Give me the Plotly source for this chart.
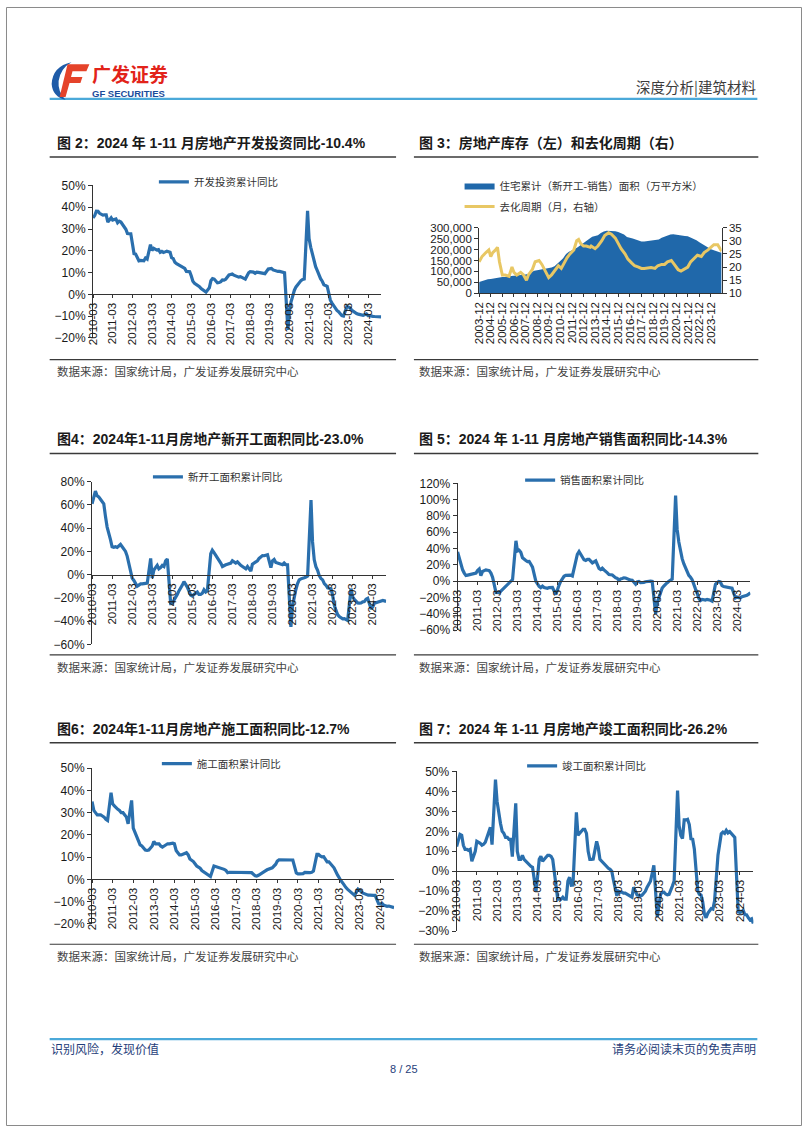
import plotly.graph_objects as go

W, H = 802, 1133
def fx(p): return p / W
def fy(p): return 1 - p / H

BLUE = "#2A6FAD"
AREA = "#2068AA"
GOLD = "#E8C764"
NAVY = "#1F3E7A"
INK = "#1A1A1A"
SANS = "Liberation Sans, Arial, Noto Sans CJK SC, sans-serif"
CJK = "Noto Sans CJK SC, sans-serif"

# ---------------- data ----------------
YEARS = list(range(2010, 2025))
MONTHS = [f"{y}-{m:02d}-01" for y in YEARS for m in range(2, 13)
          if not (y == 2010 and m < 3) and not (y == 2024 and m > 11)]
MARCH_TICKS = [f"{y}-03-01" for y in YEARS]
MARCH_TEXT = [f"{y}-03" for y in YEARS]

# 开发投资累计同比 (%)
INVEST = [
    35.1, 36.2, 38.2, 38.1, 37.2, 36.7, 36.4, 36.5, 36.5, 33.2,
    35.2, 34.1, 34.3, 34.6, 32.9, 33.6, 33.2, 32.0, 31.1, 29.9, 27.9,
    27.8, 23.5, 18.7, 18.5, 16.6, 15.4, 15.6, 15.4, 15.4, 16.7, 16.2,
    22.8, 20.2, 21.1, 20.6, 20.3, 20.5, 19.3, 19.7, 19.2, 19.5, 19.8,
    19.3, 16.8, 16.4, 14.7, 14.1, 13.7, 13.2, 12.5, 12.4, 11.9, 10.5,
    10.4, 8.5, 6.0, 5.1, 4.6, 4.3, 3.5, 2.6, 2.0, 1.3, 1.0,
    3.0, 6.2, 7.2, 7.0, 6.1, 5.3, 5.4, 5.8, 6.6, 6.5, 6.9,
    8.9, 9.1, 9.3, 8.8, 8.5, 7.9, 7.9, 8.1, 7.8, 7.5, 7.0,
    9.9, 10.4, 10.3, 10.2, 9.7, 10.2, 10.1, 9.9, 9.7, 9.7, 9.5,
    11.6, 11.8, 11.9, 11.2, 10.9, 10.6, 10.5, 10.5, 10.3, 10.2, 9.9,
    -16.3, -7.7, -3.3, -0.3, 1.9, 3.4, 4.6, 5.6, 6.3, 6.8, 7.0,
    38.3, 25.6, 21.6, 18.3, 15.0, 12.7, 10.9, 8.8, 7.2, 6.0, 4.4,
    3.7, 0.7, -2.7, -4.0, -5.4, -6.4, -7.4, -8.0, -8.8, -9.8, -10.0,
    -5.7, -5.8, -6.2, -7.2, -7.9, -8.5, -8.8, -9.1, -9.3, -9.4, -9.6,
    -9.0, -9.8, -9.8, -10.1, -10.1, -10.2, -10.2, -10.1, -10.3, -10.4,
]

# 新开工面积累计同比 (%)
STARTS = [
    61, 66, 72, 68, 67, 65, 63, 61, 50, 41,
    30, 24, 23.5, 24, 23.5, 25, 26, 24, 22, 20, 16,
    3, -3, -5, -8, -10, -9, -8, -8, -8, -7.5, -7.3,
    14, -3, 4, 6, 8, 5, 6, 8, 7, 12, 13.5,
    -25, -25, -22, -20, -17, -14, -12, -9, -6, -8, -10.7,
    -17.7, -18.4, -17, -16, -15, -17, -17, -16, -13, -15, -14,
    18, 21, 19, 17, 14, 13, 10, 7, 8, 8.5, 9,
    10, 12, 10.5, 10, 11, 9, 8, 7, 6, 5, 7,
    3, 9, 10, 11.5, 12, 14, 15.5, 16.4, 16.3, 16.8, 17.2,
    6, 11.9, 13.1, 10.5, 10.1, 9.5, 8.9, 8.6, 10.0, 8.6, 8.5,
    -44.9, -27.2, -18.4, -12.8, -7.6, -4.5, -3.6, -3.4, -2.6, -2.0, -1.2,
    64.3, 28.2, 12.8, 6.9, 3.8, -0.9, -3.2, -4.5, -7.7, -9.1, -11.4,
    -12.2, -17.5, -26.3, -30.6, -34.4, -36.1, -37.2, -38.0, -37.8, -38.9, -39.4,
    -12, -19.2, -21.2, -22.6, -24.3, -24.5, -24.4, -23.4, -23.2, -21.2, -20.4,
    -29.7, -27.8, -24.6, -24.2, -23.7, -23.2, -22.5, -22.2, -22.6, -23.0,
]

# 销售面积累计同比 (%)
SALES = [
    36, 28, 20, 14, 10, 7, 7.5, 8, 8.5, 9,
    10, 13, 15, 7, 12, 13, 14, 13.5, 13, 10, 5,
    -13.7, -14, -14, -12, -10, -8, -5, -4, -2, 0, 2,
    49.5, 37.1, 38.0, 35.6, 28.7, 26.4, 25.4, 24.0, 24.2, 20.8, 17.3,
    -0.1, -3.8, -6.3, -7.8, -6.0, -7.6, -8.3, -8.6, -7.8, -8.2, -7.6,
    -16.3, -9.2, -4.8, -0.2, 3.9, 6.1, 7.2, 7.5, 7.2, 7.4, 6.5,
    28.2, 33.1, 36.5, 33.2, 27.9, 26.4, 25.5, 26.9, 26.8, 24.3, 22.5,
    25.1, 19.5, 15.7, 14.3, 16.1, 14.0, 12.7, 10.3, 8.2, 7.9, 7.7,
    4.1, 3.6, 1.3, 2.9, 3.3, 4.2, 4.0, 2.9, 2.2, 1.4, 1.3,
    -3.6, -0.9, -0.3, -1.6, -1.8, -1.3, -0.6, -0.1, 0.1, 0.2, -0.1,
    -39.9, -26.3, -19.3, -12.3, -8.4, -5.8, -3.3, -1.8, 0.0, 1.3, 2.6,
    104.9, 63.8, 48.1, 36.3, 27.7, 21.5, 15.9, 11.3, 7.3, 4.8, 1.9,
    -9.6, -13.8, -20.9, -23.6, -22.2, -23.1, -23.0, -22.2, -22.3, -23.3, -24.3,
    -3.6, -1.8, -0.4, -0.9, -5.3, -6.5, -7.1, -7.5, -7.8, -8.0, -8.5,
    -20.5, -19.4, -20.2, -20.3, -19.0, -18.6, -18.0, -17.1, -15.8, -14.3,
]

# 施工面积累计同比 (%)
UNDER = [
    35, 31, 30, 29, 29, 29, 28.5, 28, 27, 26.5,
    39, 34, 33, 32, 31.5, 31, 30, 30, 29, 28, 25,
    35.5, 23, 21, 19, 16.5, 15.5, 15, 14, 13.2, 13, 13.2,
    15, 17, 16, 16, 16, 15, 14.5, 15, 15.5, 16, 16,
    16.3, 16, 13, 12, 11, 11, 11.3, 11.5, 12, 11, 9.2,
    8, 7, 6, 5.5, 5, 4, 3.5, 3, 2.5, 2, 1.3,
    6, 5.8, 5.6, 5.5, 5.2, 5, 4.5, 4, 3, 3.2, 3.2,
    3.2, 3.3, 3.2, 3.1, 3, 3.2, 3.3, 3.2, 3, 3, 3,
    1.6, 1.5, 1.8, 2.2, 2.8, 3.3, 3.8, 4.3, 4.7, 5, 5.2,
    6.8, 8.2, 8.8, 8.8, 8.8, 9, 8.8, 8.7, 9, 8.7, 8.7,
    2.9, 2.5, 2.5, 2.6, 2.6, 3.1, 3.0, 3.1, 3.0, 3.2, 3.7,
    11.2, 11.2, 10.5, 10.1, 10.2, 9.0, 7.9, 7.9, 7.1, 6.1, 5.2,
    2, 0.5, -0.5, -1.5, -2.8, -3.7, -4.5, -5.3, -5.7, -6.5, -7.2,
    -4.4, -5.2, -5.6, -6.2, -6.6, -6.8, -7.1, -7.1, -7.3, -7.2, -7.2,
    -11.0, -11.1, -10.8, -11.6, -12.0, -12.1, -12.0, -12.2, -12.4, -12.7,
]

# 竣工面积累计同比 (%)
COMPLETE = [
    12.4, 15, 18.5, 18, 13, 11, 11, 10.5, 11, 5,
    10, 15, 14.5, 14, 13, 13.5, 14.5, 17, 19, 22, 13.3,
    45.9, 35, 28, 24, 20, 19, 17, 17, 16, 16, 7.3,
    34, 10, 6, 6, 8, 6, 5, 4, 3, 2.5, 2,
    -10, -3, 6, 7.5, 5, 6, 7, 8, 8, 7.5, 5.9,
    -8, -14, -14, -14, -13, -14, -14, -5, -3, -7, -6.9,
    29.5, 18, 19, 20, 21, 21, 19, 10, 6, 6, 6.1,
    15, 12, 6, 5, 4, 3, 2, 1.5, 1, 0, -4.4,
    -12.3, -10, -10.5, -10.5, -11, -11, -11.5, -12, -12.5, -13, -8,
    -11.9, -12, -12.5, -12, -11, -10, -8, -6.5, -5, -1, 3,
    -22.9, -15.8, -11.5, -10.6, -10.5, -11.4, -11.8, -11.6, -9.9, -7.3, -4.9,
    40.4, 22.9, 17.9, 16.4, 25.7, 25.7, 26.0, 23.4, 16.3, 16.0, 11.2,
    -9.8, -11.5, -11.9, -15.3, -21.5, -23.3, -21.1, -19.9, -18.7, -19.0, -15.0,
    8.0, 14.7, 18.8, 19.6, 19.0, 20.5, 19.2, 19.8, 19.0, 17.9, 17.0,
    -20.2, -20.7, -20.4, -19.5, -21.8, -21.8, -23.2, -24.4, -23.9, -26.2,
]

for s in (INVEST, STARTS, SALES, UNDER, COMPLETE):
    assert len(s) == len(MONTHS), len(s)

# 图3: 住宅累计(新开工-销售)面积 (万平方米), quarterly
INV_DATES = ["2003-12-01"] + [f"{y}-{m:02d}-01" for y in range(2004, 2024) for m in (3, 6, 9, 12)] \
    + ["2024-03-01", "2024-06-01", "2024-09-01", "2024-11-01"]
INV_AREA = [
    52000,
    57000, 61000, 64000, 66000,
    68000, 72000, 75000, 75000,
    75000, 78000, 79000, 80000,
    81000, 82000, 84000, 86000,
    90000, 97000, 103000, 106000,
    108000, 110000, 111000, 114000,
    118000, 124000, 138000, 148000,
    160000, 180000, 190000, 198000,
    202000, 210000, 220000, 230000,
    238000, 250000, 258000, 262000,
    265000, 275000, 282000, 285000,
    285000, 285000, 283000, 280000,
    275000, 268000, 257000, 252000,
    250000, 246000, 242000, 236000,
    236000, 238000, 241000, 243000,
    244000, 246000, 254000, 259000,
    262000, 268000, 270000, 267000,
    265000, 262000, 261000, 260000,
    255000, 249000, 242000, 233000,
    225000, 214000, 207000, 201000,
    197000, 191000, 187000, 185000,
]
assert len(INV_DATES) == len(INV_AREA)

# 去化周期 (月, 右轴)
DEST_DATES = [
    "2003-12-01", "2004-03-01", "2004-07-01", "2004-10-01", "2004-12-01",
    "2005-02-01", "2005-05-01", "2005-07-01", "2005-09-01", "2005-12-01",
    "2006-03-01", "2006-07-01", "2006-10-01", "2006-12-01", "2007-03-01",
    "2007-07-01", "2007-10-01", "2008-01-01", "2008-03-01", "2008-07-01",
    "2008-10-01", "2009-02-01", "2009-05-01", "2009-09-01", "2009-12-01",
    "2010-03-01", "2010-07-01", "2010-10-01", "2011-01-01", "2011-03-01",
    "2011-07-01", "2011-10-01", "2012-02-01", "2012-05-01", "2012-07-01",
    "2012-09-01", "2012-12-01", "2013-03-01", "2013-07-01", "2013-08-01",
    "2013-12-01", "2014-03-01", "2014-07-01", "2014-10-01", "2015-02-01",
    "2015-05-01", "2015-09-01", "2015-12-01", "2016-03-01", "2016-07-01",
    "2016-10-01", "2017-02-01", "2017-05-01", "2017-09-01", "2017-12-01",
    "2018-03-01", "2018-07-01", "2018-10-01", "2019-02-01", "2019-05-01",
    "2019-09-01", "2019-12-01", "2020-03-01", "2020-07-01", "2020-10-01",
    "2021-02-01", "2021-05-01", "2021-09-01", "2021-12-01", "2022-03-01",
    "2022-07-01", "2022-10-01", "2023-02-01", "2023-05-01", "2023-09-01",
    "2023-12-01", "2024-03-01", "2024-07-01", "2024-09-01", "2024-11-01",
]
DEST_MONTHS = [
    22, 24, 25.5, 26.5, 24,
    25.5, 26.5, 27.5, 22, 17,
    17, 16.5, 20, 18, 17,
    18, 17, 15, 17, 19,
    22, 22.5, 21, 18, 16,
    17, 19, 20.5, 19.5, 21,
    23.5, 25, 26.5, 30, 30.5,
    29, 28, 28, 27.5, 28,
    27, 28, 30, 32, 33,
    32.5, 31, 29, 27, 25,
    23, 21.5, 20.5, 20, 19.5,
    19.5, 19.8, 19.8, 19.5, 20.5,
    21, 21, 22, 22.5, 21,
    19, 18.5, 19.5, 20, 22,
    23.5, 24.5, 24, 25.5, 26.5,
    27.5, 28.5, 28.5, 27, 26,
]
assert len(DEST_DATES) == len(DEST_MONTHS)
DEC_TICKS = [f"{y}-12-01" for y in range(2003, 2024)]
DEC_TEXT = [f"{y}-12" for y in range(2003, 2024)]

# ---------------- figure ----------------
fig = go.Figure()

def add_line(xa, ya, y, name, legend):
    fig.add_trace(go.Scatter(x=MONTHS, y=y, mode="lines", name=name,
                             line=dict(color=BLUE, width=3.2), xaxis=xa, yaxis=ya,
                             legend=legend, hoverinfo="skip"))

add_line("x", "y", INVEST, "开发投资累计同比", "legend")
fig.add_trace(go.Scatter(x=INV_DATES, y=INV_AREA, mode="lines", fill="tozeroy",
                         fillcolor=AREA, line=dict(color=AREA, width=0),
                         name="住宅累计（新开工-销售）面积（万平方米）",
                         xaxis="x2", yaxis="y2", legend="legend2", legendgroup="a",
                         hoverinfo="skip"))
fig.add_trace(go.Scatter(x=DEST_DATES, y=DEST_MONTHS, mode="lines",
                         line=dict(color=GOLD, width=3),
                         name="去化周期（月，右轴）",
                         xaxis="x2", yaxis="y3", legend="legend2", legendgroup="b",
                         hoverinfo="skip"))
add_line("x3", "y4", STARTS, "新开工面积累计同比", "legend3")
add_line("x4", "y5", SALES, "销售面积累计同比", "legend4")
add_line("x5", "y6", UNDER, "施工面积累计同比", "legend5")
add_line("x6", "y7", COMPLETE, "竣工面积累计同比", "legend6")

AXC = "#333333"

def ycfg(top, bot, anchor, rng, dtick, suffix="%", side="left", overlay=None, fmt=None, size=12):
    d = dict(domain=[fy(bot), fy(top)], range=rng, dtick=dtick, tick0=0, anchor=anchor,
             showline=True, linecolor=AXC, linewidth=1, ticks="outside", ticklen=4,
             tickcolor=AXC, showgrid=False, zeroline=False, ticksuffix=suffix,
             tickfont=dict(family=SANS, size=size, color=INK), side=side, fixedrange=True)
    if overlay:
        d["overlaying"] = overlay
        d.pop("domain")
    if fmt:
        d["tickformat"] = fmt
    return d

def xcfg(left, right, rng, tv, tt, top=None, bot=None, yr=None, anchor=None):
    d = dict(domain=[fx(left), fx(right)], range=rng, type="date", tickvals=tv, ticktext=tt,
             tickangle=-90, showline=True, linecolor=AXC, linewidth=1, ticks="outside",
             ticklen=3, tickcolor=AXC, showgrid=False, zeroline=False,
             tickfont=dict(family=SANS, size=11.5, color=INK), fixedrange=True)
    if yr is not None:
        f0, f1 = fy(bot), fy(top)
        d.update(anchor="free", position=f0 + (0 - yr[0]) / (yr[1] - yr[0]) * (f1 - f0))
    else:
        d["anchor"] = anchor
    return d

R10 = ["2010-03-01", "2024-11-01"]
layout = dict(
    xaxis=xcfg(87.7, 378, R10, MARCH_TICKS, MARCH_TEXT, 180.7, 335, [-20, 50]),
    yaxis=ycfg(180.7, 335, "x", [-20, 50], 10),
    xaxis2=xcfg(476.7, 721, ["2003-12-01", "2024-11-01"], DEC_TICKS, DEC_TEXT, anchor="y2"),
    yaxis2=ycfg(223.3, 290, "x2", [0, 300000], 50000, suffix="", fmt=",", size=11.5),
    yaxis3=ycfg(223.3, 290, "x2", [10, 35], 5, suffix="", side="right", overlay="y2", size=11.5),
    xaxis3=xcfg(86.7, 383, R10, MARCH_TICKS, MARCH_TEXT, 480.7, 645.3, [-60, 80]),
    yaxis4=ycfg(480.7, 645.3, "x3", [-60, 80], 20),
    xaxis4=xcfg(455, 750, R10, MARCH_TICKS, MARCH_TEXT, 482.3, 631, [-60, 120]),
    yaxis5=ycfg(482.3, 631, "x4", [-60, 120], 20),
    xaxis5=xcfg(86.7, 391, R10, MARCH_TICKS, MARCH_TEXT, 770.7, 928.3, [-20, 50]),
    yaxis6=ycfg(770.7, 928.3, "x5", [-20, 50], 10),
    xaxis6=xcfg(454, 753, R10, MARCH_TICKS, MARCH_TEXT, 774, 935.7, [-30, 50]),
    yaxis7=ycfg(774, 935.7, "x6", [-30, 50], 10),
)

LEGFONT = dict(family=CJK, size=10.5, color="#333333")
def leg(xp, yp):
    return dict(x=fx(xp), y=fy(yp), xanchor="left", yanchor="middle", orientation="v",
                font=LEGFONT, bgcolor="rgba(0,0,0,0)", borderwidth=0, itemwidth=30,
                tracegroupgap=2)
layout.update(
    legend=leg(149, 177),
    legend2=leg(457, 191.4),
    legend3=leg(143, 475.7),
    legend4=leg(518, 479),
    legend5=leg(152, 766),
    legend6=leg(520, 768.3),
)

fig.update_layout(**layout)
fig.update_layout(width=W, height=H, autosize=False, margin=dict(l=0, r=0, t=0, b=0),
                  paper_bgcolor="white", plot_bgcolor="rgba(0,0,0,0)", showlegend=True,
                  hovermode=False)

# ---------------- page furniture ----------------
shapes = []
def hline(x0, x1, y, color, width):
    shapes.append(dict(type="line", xref="paper", yref="paper", x0=fx(x0), x1=fx(x1),
                       y0=fy(y), y1=fy(y), line=dict(color=color, width=width)))

shapes.append(dict(type="rect", xref="paper", yref="paper", x0=fx(0.5), x1=fx(801.5),
                   y0=fy(1132.5), y1=fy(0.5), line=dict(color="#8A8A8A", width=1)))
hline(44, 757, 93, "#4BA9D9", 2.2)
hline(44, 757, 1045, "#4BA9D9", 2.2)
for row_title_line, row_src_line in ((152, 357), (452, 656), (745, 949)):
    hline(44, 393, row_title_line, "#3A3A3A", 1.5)
    hline(411, 758, row_title_line, "#3A3A3A", 1.5)
    hline(44, 393, row_src_line, "#3A3A3A", 1.2)
    hline(411, 758, row_src_line, "#3A3A3A", 1.2)

def path(d, color):
    pts = d.split()
    out = []
    i = 0
    while i < len(pts):
        t = pts[i]
        if t in ("M", "L"):
            out.append(f"{t} {fx(float(pts[i+1]))} {fy(float(pts[i+2]))}")
            i += 3
        elif t == "Q":
            out.append(f"Q {fx(float(pts[i+1]))} {fy(float(pts[i+2]))} {fx(float(pts[i+3]))} {fy(float(pts[i+4]))}")
            i += 5
        else:
            out.append(t)
            i += 1
    shapes.append(dict(type="path", xref="paper", yref="paper", path=" ".join(out),
                       fillcolor=color, line=dict(width=0)))

# logo
path("M 66 56 Q 47 60 46 78 Q 47 91 60 94 Q 52 86 53 75 Q 55 62 66 56 Z", "#1E5BA8")
path("M 62 58 L 84 58 L 81 65 L 67 65 L 65.5 71 L 77 71 L 75 77 L 64 77 L 60 91 L 54 91 Z", "#E5432A")

annotations = []
def text(x, y, s, size, color, family=CJK, anchor="left", bold=False):
    annotations.append(dict(xref="paper", yref="paper", x=fx(x), y=fy(y), text=f"<b>{s}</b>" if bold else s,
                            showarrow=False, xanchor=anchor, yanchor="middle", borderpad=0,
                            font=dict(family=family, size=size, color=color)))

text(86, 67, "广发证券", 19, "#E2231A", bold=True)
text(86, 88, "GF SECURITIES", 9.5, "#1B4C9B", family=SANS, bold=True)
text(757, 80, "深度分析|建筑材料", 14.5, "#3C3C3C", anchor="right")

TFONT = "Liberation Sans, Arial, Noto Sans CJK SC, sans-serif"
titles = [
    (50, 138, "图 2：2024 年 1-11 月房地产开发投资同比-10.4%"),
    (415, 138, "图 3：房地产库存（左）和去化周期（右）"),
    (50, 437, "图4：2024年1-11月房地产新开工面积同比-23.0%"),
    (415, 437, "图 5：2024 年 1-11 月房地产销售面积同比-14.3%"),
    (50, 731, "图6：2024年1-11月房地产施工面积同比-12.7%"),
    (415, 731, "图 7：2024 年 1-11 月房地产竣工面积同比-26.2%"),
]
for x, y, s in titles:
    text(x, y, s, 14, "#1A1A1A", family=TFONT, bold=True)

SRC = "数据来源：国家统计局，广发证券发展研究中心"
for y in (369, 668, 961):
    text(50, y, SRC, 11.5, "#444444")
    text(415, y, SRC, 11.5, "#444444")

text(44, 1055, "识别风险，发现价值", 12, NAVY)
text(757, 1055, "请务必阅读末页的免责声明", 12, NAVY, anchor="right")
text(401, 1075, "8 / 25", 11, NAVY, family=SANS, anchor="center")

fig.update_layout(shapes=shapes, annotations=annotations)
PIN = ("document.documentElement.style.margin='0';document.body.style.margin='0';"
       "document.body.style.padding='0';document.documentElement.style.overflow='hidden';"
       "var g=document.getElementsByClassName('plotly-graph-div')[0];"
       "g.style.position='fixed';g.style.left='0px';g.style.top='0px';")
fig.write_html("out.html", config={"displayModeBar": False, "staticPlot": True},
               post_script=PIN)
